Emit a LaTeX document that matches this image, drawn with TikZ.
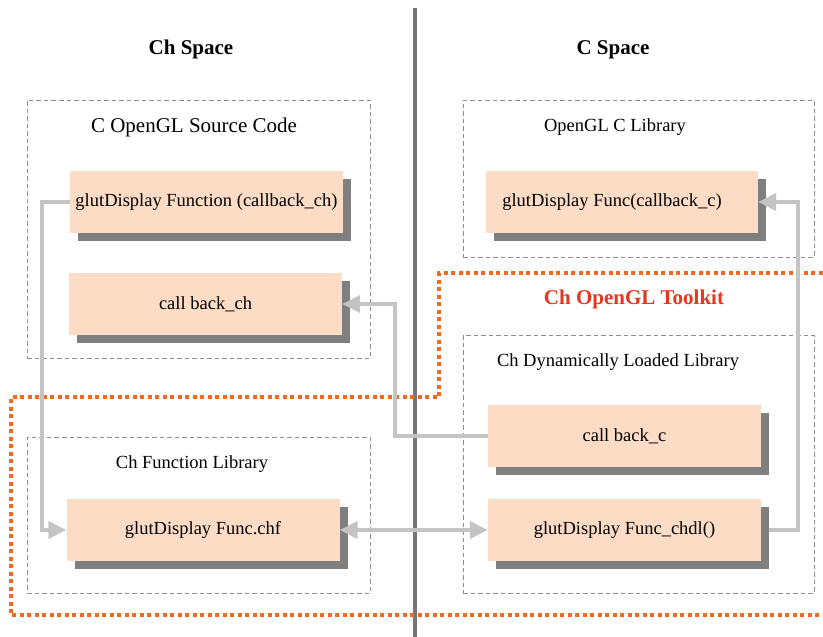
\documentclass[tikz,border=0pt]{standalone}
\usepackage{fontspec}
\setmainfont{Liberation Serif}
\usetikzlibrary{shadows, arrows.meta}

\definecolor{boxfill}{HTML}{FDDCC6}
\definecolor{shadowgray}{HTML}{7F7F7F}
\definecolor{arrowgray}{HTML}{C4C4C4}
\definecolor{groupgray}{HTML}{8C8C8C}
\definecolor{kitorange}{HTML}{F26A21}
\definecolor{kitred}{HTML}{E8351E}
\definecolor{divgray}{HTML}{777777}

\begin{document}
\begin{tikzpicture}[x=1pt,y=-1pt,
                    function/.style={minimum width=273pt,minimum height=62pt,inner sep=0pt,fill=boxfill,
                      drop shadow={shadow xshift=8pt,shadow yshift=-8pt,fill=shadowgray,opacity=1},
                      font=\fontsize{18.5}{20}\selectfont},
                    group/.style={draw=groupgray,dash pattern=on 4.5pt off 3pt,line width=1pt,inner sep=0pt},
                    group title/.style={font=\fontsize{18.5}{20}\selectfont},
                    space title/.style={font=\fontsize{21}{23}\selectfont\bfseries},
                    call arrow/.style={draw=arrowgray,line width=4pt,-{Triangle[length=18pt,width=17pt]}}]
  \useasboundingbox (0,0) rectangle (823,637);

  % spaces
  \draw[divgray, line width=4.5pt] (415,8) coordinate (divtop) -- (415,640) coordinate (divbot);
  \node[space title] (chspace) at (191,49) {Ch Space};
  \node[space title] (cspace) at (613,50) {C Space};

  % toolkit outline
  \draw[kitorange, line width=4pt, dash pattern=on 4pt off 3.5pt]
    (830,273) -- (439,273) -- (439,397) -- (11,397) -- (11,615) -- (830,615);
  \node[space title, text=kitred] (toolkit) at (634,299) {Ch OpenGL Toolkit};

  % groups
  \node[group, minimum width=343pt, minimum height=258pt] (source) at (198.5,229) {};
  \node[group title, font=\fontsize{21}{23}\selectfont] (sourcetitle) at (194,127) {C OpenGL Source Code};
  \node[group, minimum width=351pt, minimum height=157pt] (clib) at (638.5,178.5) {};
  \node[group title] (clibtitle) at (615,127) {OpenGL C Library};
  \node[group, minimum width=351pt, minimum height=258pt] (dll) at (638.5,464) {};
  \node[group title] (dlltitle) at (618,362) {Ch Dynamically Loaded Library};
  \node[group, minimum width=343pt, minimum height=156pt] (chflib) at (198.5,515) {};
  \node[group title] (chflibtitle) at (192,464) {Ch Function Library};

  % functions
  \node[function] (dispch) at (206.5,202) {glutDisplay Function (callback\_ch)};
  \node[function] (backch) at (205.5,304) {call back\_ch};
  \node[function, minimum width=272pt] (dispc) at (622,202) {\hspace*{-20pt}glutDisplay Func(callback\_c)};
  \node[function] (backc) at (624.5,436) {call back\_c};
  \node[function] (dispchdl) at (624.5,530) {glutDisplay Func\_chdl()};
  \node[function] (dispchf) at (203,530) {glutDisplay Func.chf};

  % calls
  \coordinate (leftrun) at (42,530);
  \coordinate (midrun) at (395,0);
  \coordinate (rightrun) at (798,0);
  \draw[call arrow] (dispch.west) -| (leftrun) -- (dispchf.west);
  \draw[call arrow] (backc.west) -- (backc.west -| midrun) |- (backch.east);
  \draw[call arrow] ([xshift=8pt]dispchdl.east) -- (dispchdl.east -| rightrun) |- (dispc.east);
  \draw[call arrow, {Triangle[length=18pt,width=17pt]}-{Triangle[length=18pt,width=17pt]}] (dispchf.east) -- (dispchdl.west);
\end{tikzpicture}
\end{document}
